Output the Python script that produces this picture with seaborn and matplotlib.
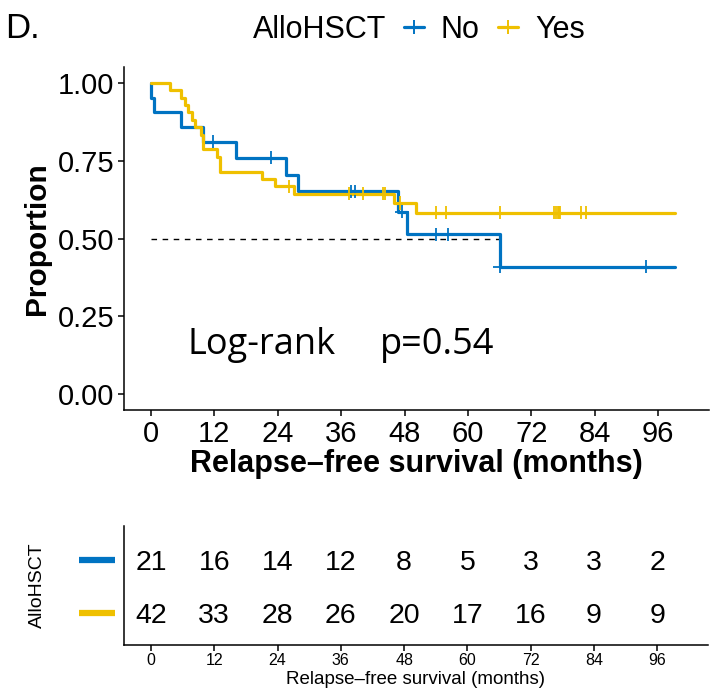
import numpy as np
import pandas as pd
import matplotlib
matplotlib.use("Agg")
import matplotlib.pyplot as plt
import matplotlib.transforms as mtransforms
from matplotlib.lines import Line2D
import seaborn as sns

# ---------------- data ----------------
groups = ["No", "Yes"]
colors = ["#0073C2", "#EFC000"]

no_time = [0, 0, 0.6, 5.7, 9.8, 16.1, 25.5, 27.8, 46.7, 48.4, 66.0, 99.2]
no_surv = [1.0, 0.952, 0.905, 0.857, 0.810, 0.759, 0.705, 0.651, 0.586, 0.513, 0.410, 0.410]
no_cens = [11.7, 22.7, 37.9, 38.6, 47.5, 53.9, 56.2, 66.0, 93.7]

yes_time = [0, 3.6, 5.7, 6.4, 7.0, 7.8, 8.3, 9.5, 9.8, 12.5, 13.1, 21.0, 23.5, 27.1, 46.0, 50.2, 99.2]
yes_surv = [1.0, 0.976, 0.952, 0.929, 0.905, 0.881, 0.857, 0.833, 0.786, 0.762, 0.714, 0.690,
            0.667, 0.643, 0.614, 0.583, 0.583]
yes_cens = [26.1, 37.5, 40.1, 43.9, 44.3, 47.1, 53.9, 55.8, 66.0, 76.3, 76.6, 77.0, 77.2, 77.4,
            81.4, 82.3]

risk_times = [0, 12, 24, 36, 48, 60, 72, 84, 96]
no_risk = [21, 16, 14, 12, 8, 5, 3, 3, 2]
yes_risk = [42, 33, 28, 26, 20, 17, 16, 9, 9]

x_ticks = [0, 12, 24, 36, 48, 60, 72, 84, 96]
y_ticks = [0.00, 0.25, 0.50, 0.75, 1.00]
median_time = 66.0
pval_text = "p=0.54"

# ---------------- tables ----------------
curve_df = pd.concat([
    pd.DataFrame({"time": no_time, "surv": no_surv, "AlloHSCT": "No"}),
    pd.DataFrame({"time": yes_time, "surv": yes_surv, "AlloHSCT": "Yes"}),
], ignore_index=True)


def step_lookup(times, survs, t):
    i = np.searchsorted(np.asarray(times), t, side="right") - 1
    return survs[i]


cens_df = pd.concat([
    pd.DataFrame({"time": no_cens,
                  "surv": [step_lookup(no_time, no_surv, c) for c in no_cens],
                  "AlloHSCT": "No"}),
    pd.DataFrame({"time": yes_cens,
                  "surv": [step_lookup(yes_time, yes_surv, c) for c in yes_cens],
                  "AlloHSCT": "Yes"}),
], ignore_index=True)

# ---------------- figure ----------------
sns.set_style("ticks")
plt.rcParams["font.family"] = ["Liberation Sans", "DejaVu Sans"]
plt.rcParams.update({
    "axes.linewidth": 1.1,
    "xtick.major.width": 1.1, "ytick.major.width": 1.1,
    "xtick.major.size": 4, "ytick.major.size": 4,
    "xtick.color": "black", "ytick.color": "black",
    "xtick.labelcolor": "black", "ytick.labelcolor": "black",
    "axes.edgecolor": "black", "axes.labelcolor": "black", "text.color": "black",
})

fig = plt.figure(figsize=(7.14, 6.97), dpi=100)
ax = fig.add_axes([124 / 714, 1 - 410 / 697, (709 - 124) / 714, (410 - 67) / 697])
axt = fig.add_axes([124 / 714, 1 - 645 / 697, (708 - 124) / 714, (645 - 526) / 697])

pal = dict(zip(groups, colors))
xlim = (-5.1, 105.6)

sns.lineplot(data=curve_df, x="time", y="surv", hue="AlloHSCT", palette=pal,
             estimator=None, sort=False, drawstyle="steps-post", lw=2.3,
             legend=False, ax=ax)
sns.scatterplot(data=cens_df, x="time", y="surv", hue="AlloHSCT", palette=pal,
                marker="+", s=90, linewidth=1.3, legend=False, ax=ax, zorder=3)

ax.plot([0, median_time], [0.5, 0.5], ls=(0, (4, 4)), color="black", lw=1.0, zorder=1)

ax.set_xlim(*xlim)
ax.set_ylim(-0.05, 1.05)
ax.set_xticks(x_ticks)
ax.set_yticks(y_ticks)
ax.set_yticklabels([f"{v:.2f}" for v in y_ticks])
ax.tick_params(labelsize=21, pad=3)
ax.set_xlabel("Relapse\u2013free survival (months)", fontsize=22, fontweight="bold", labelpad=1)
ax.set_ylabel("Proportion", fontsize=21.5, fontweight="bold", labelpad=5)
sns.despine(ax=ax)

ax.text(7.0, 0.128, "Log-rank", fontsize=26, family=["Open Sans", "DejaVu Sans"],
        ha="left", va="baseline")
ax.text(43.3, 0.128, pval_text, fontsize=26, family=["Open Sans", "DejaVu Sans"],
        ha="left", va="baseline")

# legend on top
fig.text(253 / 714, 1 - 30 / 697, "AlloHSCT", fontsize=22, ha="left", va="center")
handles = [Line2D([], [], color=c, marker="+", ms=10, mew=1.4, lw=2.3) for c in colors]
fig.legend(handles, groups, loc="center left", bbox_to_anchor=(404 / 714, 1 - 30 / 697),
           ncol=2, frameon=False, fontsize=22, handlelength=0.65, handletextpad=0.55,
           columnspacing=0.62, borderpad=0, borderaxespad=0)

fig.text(5 / 714, 1 - 29 / 697, "D.", fontsize=25, ha="left", va="center")

# ---------------- risk table ----------------
risk_df = pd.concat([
    pd.DataFrame({"time": risk_times, "n": no_risk, "row": 2}),
    pd.DataFrame({"time": risk_times, "n": yes_risk, "row": 1}),
], ignore_index=True)
for _, r in risk_df.iterrows():
    axt.text(r["time"], r["row"], str(int(r["n"])), fontsize=20.5, ha="center",
             va="center_baseline")

axt.set_xlim(*xlim)
axt.set_ylim(0.4, 2.64)
axt.set_xticks(x_ticks)
axt.set_yticks([])
axt.tick_params(axis="x", labelsize=11.5, pad=2)
axt.set_xlabel("Relapse\u2013free survival (months)", fontsize=13.5, labelpad=2)
sns.despine(ax=axt)

trans = mtransforms.blended_transform_factory(fig.transFigure, axt.transData)
for row, c in zip([2, 1], colors):
    axt.add_line(Line2D([79 / 714, 115 / 714], [row, row], transform=trans, color=c, lw=4.5,
                        solid_capstyle="butt", clip_on=False))
fig.text(37 / 714, 1 - 585 / 697, "AlloHSCT", fontsize=14, rotation=90, ha="center", va="center")

fig.savefig("out.png", dpi=100)
